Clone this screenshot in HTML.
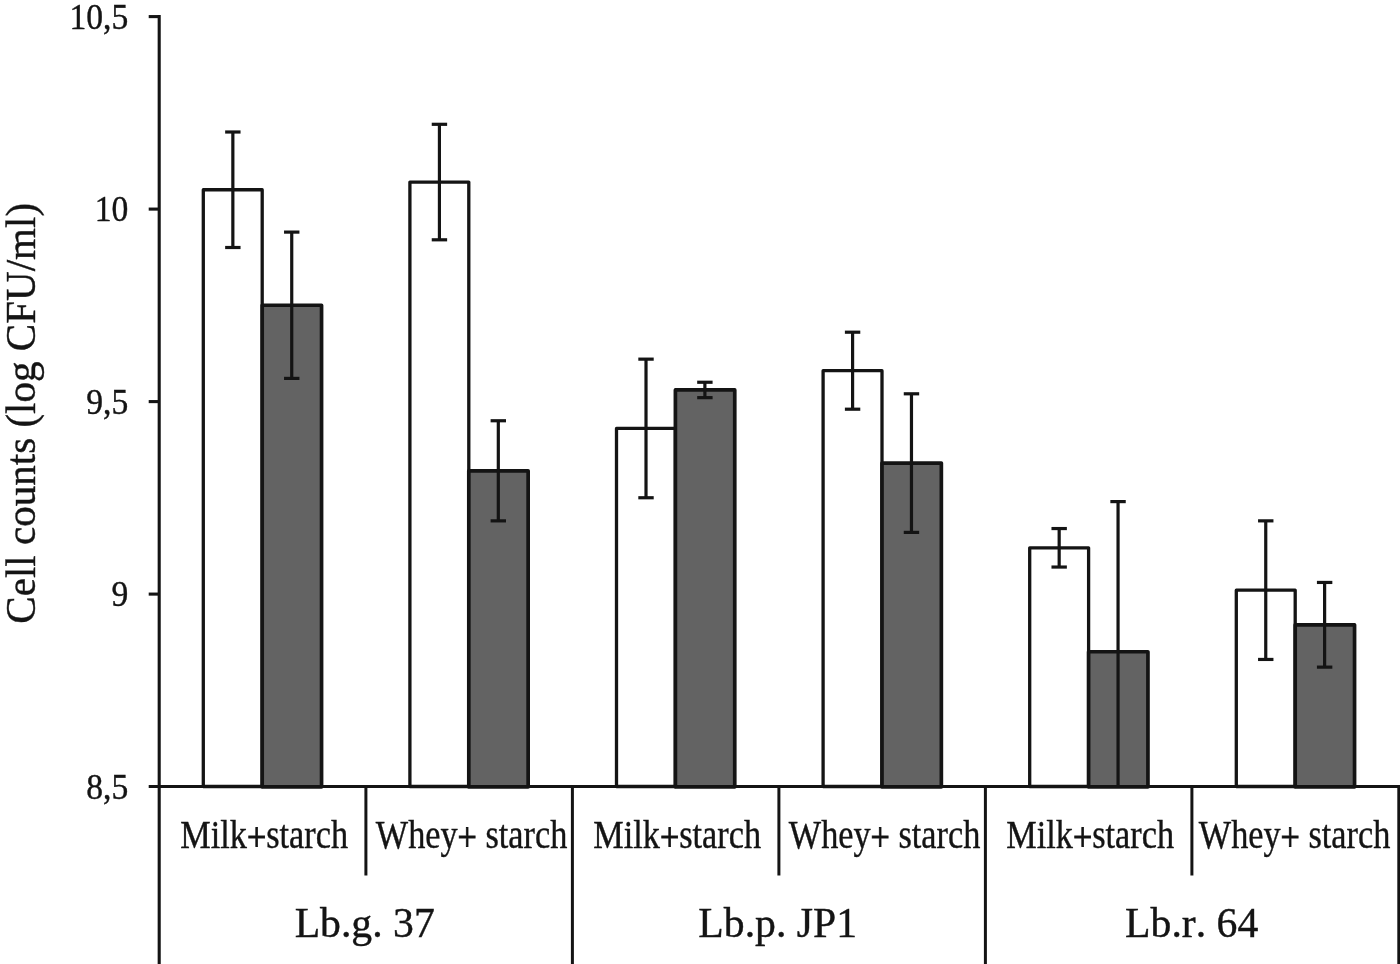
<!DOCTYPE html>
<html lang="en"><head><meta charset="utf-8"><title>Cell counts chart</title>
<style>html,body{margin:0;padding:0;background:#fff;}body{width:1400px;height:964px;overflow:hidden;}svg{display:block;}text{font-family:"Liberation Serif","Times New Roman",serif;fill:#141414;font-kerning:none;stroke:#141414;stroke-width:0.4px;}</style>
</head><body>
<svg width="1400" height="964" viewBox="0 0 1400 964">
<rect x="0" y="0" width="1400" height="964" fill="#ffffff"/>
<defs><clipPath id="plot"><rect x="0" y="0" width="1400" height="786.50"/></clipPath></defs>
<rect x="203.30" y="189.75" width="58.90" height="596.75" fill="#ffffff" stroke="#141414" stroke-width="3.3" stroke-linejoin="round"/>
<rect x="262.20" y="305.25" width="59.35" height="481.55" fill="#636363" stroke="#141414" stroke-width="3.7" stroke-linejoin="round"/>
<g clip-path="url(#plot)" stroke="#141414" stroke-width="3.2" fill="none">
<line x1="232.85" y1="132.00" x2="232.85" y2="247.50"/>
<line x1="225.15" y1="132.00" x2="240.55" y2="132.00"/>
<line x1="225.15" y1="247.50" x2="240.55" y2="247.50"/>
</g>
<g clip-path="url(#plot)" stroke="#141414" stroke-width="3.2" fill="none">
<line x1="291.73" y1="232.10" x2="291.73" y2="378.40"/>
<line x1="284.03" y1="232.10" x2="299.43" y2="232.10"/>
<line x1="284.03" y1="378.40" x2="299.43" y2="378.40"/>
</g>
<rect x="409.90" y="182.05" width="58.90" height="604.45" fill="#ffffff" stroke="#141414" stroke-width="3.3" stroke-linejoin="round"/>
<rect x="468.80" y="470.80" width="59.35" height="316.00" fill="#636363" stroke="#141414" stroke-width="3.7" stroke-linejoin="round"/>
<g clip-path="url(#plot)" stroke="#141414" stroke-width="3.2" fill="none">
<line x1="439.43" y1="124.30" x2="439.43" y2="239.80"/>
<line x1="431.73" y1="124.30" x2="447.13" y2="124.30"/>
<line x1="431.73" y1="239.80" x2="447.13" y2="239.80"/>
</g>
<g clip-path="url(#plot)" stroke="#141414" stroke-width="3.2" fill="none">
<line x1="498.31" y1="420.75" x2="498.31" y2="520.85"/>
<line x1="490.61" y1="420.75" x2="506.00" y2="420.75"/>
<line x1="490.61" y1="520.85" x2="506.00" y2="520.85"/>
</g>
<rect x="616.50" y="428.45" width="58.90" height="358.05" fill="#ffffff" stroke="#141414" stroke-width="3.3" stroke-linejoin="round"/>
<rect x="675.40" y="389.95" width="59.35" height="396.85" fill="#636363" stroke="#141414" stroke-width="3.7" stroke-linejoin="round"/>
<g clip-path="url(#plot)" stroke="#141414" stroke-width="3.2" fill="none">
<line x1="646.01" y1="359.15" x2="646.01" y2="497.75"/>
<line x1="638.31" y1="359.15" x2="653.71" y2="359.15"/>
<line x1="638.31" y1="497.75" x2="653.71" y2="497.75"/>
</g>
<g clip-path="url(#plot)" stroke="#141414" stroke-width="3.2" fill="none">
<line x1="704.88" y1="382.25" x2="704.88" y2="397.65"/>
<line x1="697.18" y1="382.25" x2="712.59" y2="382.25"/>
<line x1="697.18" y1="397.65" x2="712.59" y2="397.65"/>
</g>
<rect x="823.10" y="370.70" width="58.90" height="415.80" fill="#ffffff" stroke="#141414" stroke-width="3.3" stroke-linejoin="round"/>
<rect x="882.00" y="463.10" width="59.35" height="323.70" fill="#636363" stroke="#141414" stroke-width="3.7" stroke-linejoin="round"/>
<g clip-path="url(#plot)" stroke="#141414" stroke-width="3.2" fill="none">
<line x1="852.59" y1="332.20" x2="852.59" y2="409.20"/>
<line x1="844.89" y1="332.20" x2="860.29" y2="332.20"/>
<line x1="844.89" y1="409.20" x2="860.29" y2="409.20"/>
</g>
<g clip-path="url(#plot)" stroke="#141414" stroke-width="3.2" fill="none">
<line x1="911.47" y1="393.80" x2="911.47" y2="532.40"/>
<line x1="903.76" y1="393.80" x2="919.17" y2="393.80"/>
<line x1="903.76" y1="532.40" x2="919.17" y2="532.40"/>
</g>
<rect x="1029.70" y="547.80" width="58.90" height="238.70" fill="#ffffff" stroke="#141414" stroke-width="3.3" stroke-linejoin="round"/>
<rect x="1088.60" y="651.75" width="59.35" height="135.05" fill="#636363" stroke="#141414" stroke-width="3.7" stroke-linejoin="round"/>
<g clip-path="url(#plot)" stroke="#141414" stroke-width="3.2" fill="none">
<line x1="1059.17" y1="528.55" x2="1059.17" y2="567.05"/>
<line x1="1051.47" y1="528.55" x2="1066.87" y2="528.55"/>
<line x1="1051.47" y1="567.05" x2="1066.87" y2="567.05"/>
</g>
<g clip-path="url(#plot)" stroke="#141414" stroke-width="3.2" fill="none">
<line x1="1118.05" y1="501.60" x2="1118.05" y2="801.90"/>
<line x1="1110.35" y1="501.60" x2="1125.75" y2="501.60"/>
<line x1="1110.35" y1="801.90" x2="1125.75" y2="801.90"/>
</g>
<rect x="1236.30" y="590.15" width="58.90" height="196.35" fill="#ffffff" stroke="#141414" stroke-width="3.3" stroke-linejoin="round"/>
<rect x="1295.20" y="624.80" width="59.35" height="162.00" fill="#636363" stroke="#141414" stroke-width="3.7" stroke-linejoin="round"/>
<g clip-path="url(#plot)" stroke="#141414" stroke-width="3.2" fill="none">
<line x1="1265.75" y1="520.85" x2="1265.75" y2="659.45"/>
<line x1="1258.05" y1="520.85" x2="1273.45" y2="520.85"/>
<line x1="1258.05" y1="659.45" x2="1273.45" y2="659.45"/>
</g>
<g clip-path="url(#plot)" stroke="#141414" stroke-width="3.2" fill="none">
<line x1="1324.62" y1="582.45" x2="1324.62" y2="667.15"/>
<line x1="1316.92" y1="582.45" x2="1332.33" y2="582.45"/>
<line x1="1316.92" y1="667.15" x2="1332.33" y2="667.15"/>
</g>
<g stroke="#141414" fill="none">
<line x1="159.20" y1="15.10" x2="159.20" y2="964" stroke-width="3.1"/>
<line x1="148.70" y1="786.50" x2="1400" y2="786.50" stroke-width="3.2"/>
<line x1="148.70" y1="594.10" x2="159.20" y2="594.10" stroke-width="3.1"/>
<line x1="148.70" y1="401.60" x2="159.20" y2="401.60" stroke-width="3.1"/>
<line x1="148.70" y1="209.10" x2="159.20" y2="209.10" stroke-width="3.1"/>
<line x1="148.70" y1="16.60" x2="159.20" y2="16.60" stroke-width="3.1"/>
<line x1="365.90" y1="786.50" x2="365.90" y2="875.50" stroke-width="3"/>
<line x1="572.40" y1="786.50" x2="572.40" y2="964.00" stroke-width="3"/>
<line x1="778.90" y1="786.50" x2="778.90" y2="875.50" stroke-width="3"/>
<line x1="985.40" y1="786.50" x2="985.40" y2="964.00" stroke-width="3"/>
<line x1="1191.90" y1="786.50" x2="1191.90" y2="875.50" stroke-width="3"/>
<line x1="1398.80" y1="786.50" x2="1398.80" y2="964.00" stroke-width="3"/>
</g>
<text transform="translate(128.3 28.65) scale(0.955 1)" font-size="35.2" text-anchor="end">10,5</text>
<text transform="translate(128.3 221.15) scale(0.955 1)" font-size="35.2" text-anchor="end">10</text>
<text transform="translate(128.3 413.65) scale(0.955 1)" font-size="35.2" text-anchor="end">9,5</text>
<text transform="translate(128.3 606.15) scale(0.955 1)" font-size="35.2" text-anchor="end">9</text>
<text transform="translate(128.3 798.65) scale(0.955 1)" font-size="35.2" text-anchor="end">8,5</text>
<text transform="translate(264.20 848.35) scale(0.874 1)" font-size="39.2" text-anchor="middle">Milk<tspan dy="1.5" stroke-width="0.9">+</tspan><tspan dy="-1.5">starch</tspan></text>
<text transform="translate(471.55 848.35) scale(0.874 1)" font-size="39.2" text-anchor="middle">Whey<tspan dy="1.5" stroke-width="0.9">+</tspan><tspan dy="-1.5"> starch</tspan></text>
<text transform="translate(677.20 848.35) scale(0.874 1)" font-size="39.2" text-anchor="middle">Milk<tspan dy="1.5" stroke-width="0.9">+</tspan><tspan dy="-1.5">starch</tspan></text>
<text transform="translate(884.55 848.35) scale(0.874 1)" font-size="39.2" text-anchor="middle">Whey<tspan dy="1.5" stroke-width="0.9">+</tspan><tspan dy="-1.5"> starch</tspan></text>
<text transform="translate(1090.20 848.35) scale(0.874 1)" font-size="39.2" text-anchor="middle">Milk<tspan dy="1.5" stroke-width="0.9">+</tspan><tspan dy="-1.5">starch</tspan></text>
<text transform="translate(1294.55 848.35) scale(0.874 1)" font-size="39.2" text-anchor="middle">Whey<tspan dy="1.5" stroke-width="0.9">+</tspan><tspan dy="-1.5"> starch</tspan></text>
<text x="364.70" y="937.05" font-size="41.7" text-anchor="middle">Lb.g. 37</text>
<text x="777.70" y="937.05" font-size="41.7" text-anchor="middle">Lb.p. JP1</text>
<text x="1191.70" y="937.05" font-size="41.7" text-anchor="middle">Lb.r. 64</text>
<text transform="translate(35.1 413.3) rotate(-90) scale(0.9636 1)" font-size="42.6" text-anchor="middle">Cell counts (log CFU/ml)</text>
</svg></body></html>
